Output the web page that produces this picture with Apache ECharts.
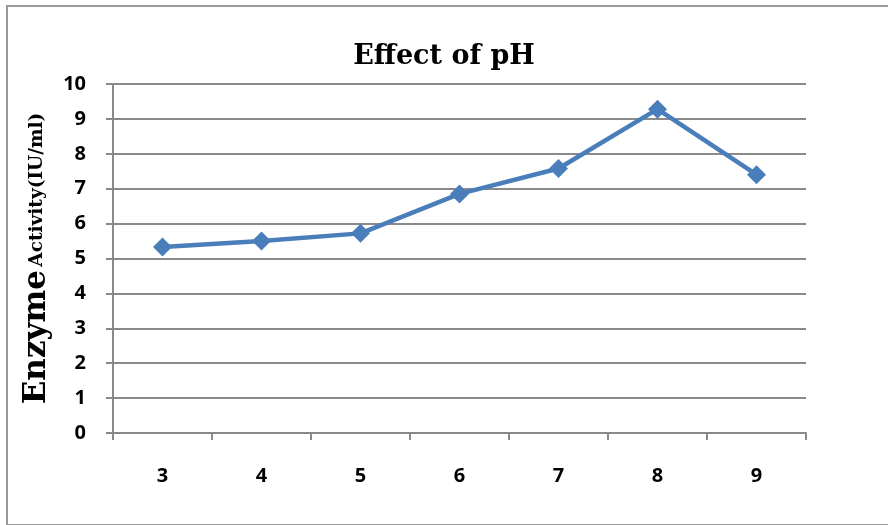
<!DOCTYPE html>
<html>
<head>
<meta charset="utf-8">
<script src="https://cdn.jsdelivr.net/npm/echarts@6/dist/echarts.min.js"></script>
<style>
  html, body { margin: 0; padding: 0; background: #fff; }
  #frame { position: absolute; left: 6px; top: 5px; width: 884px; height: 517px; border: 2px solid #9a9a9a; box-sizing: content-box; }
  #chart { position: absolute; left: 0; top: 0; width: 888px; height: 525px; }
</style>
</head>
<body>
<div id="frame"></div>
<div id="chart"></div>
<script>
// pH values tested and the measured enzyme activity at each
const phLevels = ['3', '4', '5', '6', '7', '8', '9'];
const activity = [5.33, 5.5, 5.72, 6.85, 7.58, 9.28, 7.4];
const yTicks = { min: 0, max: 10, step: 1 };

const chart = echarts.init(document.getElementById('chart'));
const gridColor = '#8a8a8a';
const serif = 'DejaVu Serif';
const sans = 'Open Sans';

chart.setOption({
  animation: false,
  title: {
    text: 'Effect of pH',
    left: 'center',
    top: 38,
    textStyle: { fontFamily: serif, fontWeight: 'bold', fontSize: 27, color: '#000' }
  },
  grid: { left: 113, right: 82, top: 84, bottom: 92, containLabel: false },
  xAxis: {
    type: 'category',
    data: phLevels,
    boundaryGap: true,
    axisLine: { lineStyle: { color: gridColor, width: 2 } },
    axisTick: { show: true, length: 7, lineStyle: { color: gridColor, width: 2 } },
    axisLabel: { margin: 33, color: '#000', fontFamily: sans, fontWeight: 'bold', fontSize: 20 },
    splitLine: { show: false }
  },
  yAxis: {
    type: 'value',
    min: yTicks.min,
    max: yTicks.max,
    interval: yTicks.step,
    name: '{big|Enzyme} {small|Activity(IU/ml)}',
    nameLocation: 'middle',
    nameGap: 60,
    nameRotate: 90,
    nameTextStyle: {
      rich: {
        big: { fontFamily: serif, fontWeight: 'bold', fontSize: 31, color: '#000' },
        small: { fontFamily: serif, fontWeight: 'bold', fontSize: 18.5, color: '#000' }
      }
    },
    axisLine: { show: true, lineStyle: { color: gridColor, width: 2 } },
    axisTick: { show: true, length: 7, lineStyle: { color: gridColor, width: 2 } },
    axisLabel: { margin: 27, color: '#000', fontFamily: sans, fontWeight: 'bold', fontSize: 20 },
    splitLine: { show: true, lineStyle: { color: gridColor, width: 2 } }
  },
  series: [{
    type: 'line',
    data: activity,
    symbol: 'diamond',
    symbolSize: 19,
    itemStyle: { color: '#4a7ebb' },
    lineStyle: { color: '#4a7ebb', width: 4.5 }
  }]
});
</script>
</body>
</html>
